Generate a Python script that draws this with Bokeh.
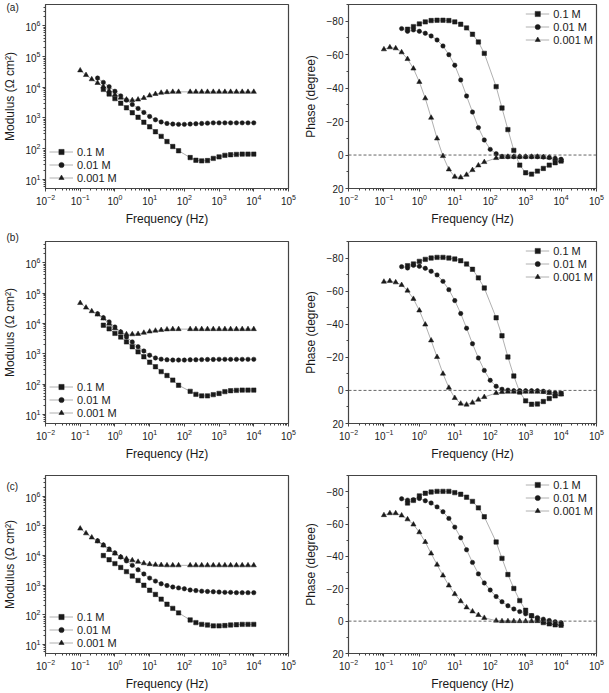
from bokeh.plotting import figure
from bokeh.layouts import column, row
from bokeh.models import Range1d, FixedTicker, Span, Legend, LegendItem
from bokeh.embed import file_html
from bokeh.resources import INLINE

# Measurement frequencies (Hz), 6 points per decade from 0.1 Hz to 10 kHz
FREQ = [0.1, 0.147, 0.215, 0.316, 0.464, 0.681,
        1.0, 1.47, 2.15, 3.16, 4.64, 6.81,
        10.0, 14.7, 21.5, 31.6, 46.4, 68.1,
        100.0, 147.0, 215.0, 316.0, 464.0, 681.0,
        1000.0, 1470.0, 2150.0, 3160.0, 4640.0, 6810.0, 10000.0]

LABELS = ["0.1 M", "0.01 M", "0.001 M"]
N = None

# ---- impedance modulus (ohm cm^2) ----
mod_a_01 = [N, N, N, N, 8510, 6030, 4270, 3020, 2140, 1480, 1050, 724, 513, 355, 251, 170,
            117, 85, N, 51, 41.7, 39.8, 40.7, 47.9, 53.7, 60.3, 63.1, 64.6, 66.1, 66.1, 66.1]
mod_a_001 = [N, N, N, 19950, 14450, 10470, 7410, 5250, 3800, 2750, 2040, 1510, 1120, 871, 741, 661,
             631, 617, 617, 631, 646, 661, 676, 692, 692, 692, 692, 692, 692, 692, 692]
mod_a_0001 = [35500, 25100, 18200, 13800, 10500, 7760, 5750, 4570, 3980, 3800, 3980, 4470, 5370, 6030,
              6610, 6920, 7080, 7080, N, 7080, 7080, 7080, 7080, 7080, 7080, 7080, 7080, 7080, 7080, 7080, 7080]

mod_b_01 = [N, N, N, N, 8710, 6610, 4680, 3550, 2450, 1700, 1150, 794, 525, 372, 257, 191,
            135, 91.2, N, 57.5, 45.7, 40.7, 40.7, 44.7, 49.0, 56.2, 60.3, 61.7, 63.1, 63.1, 63.1]
mod_b_001 = [N, N, N, 20900, 15500, 11200, 7590, 5250, 3550, 2450, 1700, 1230, 891, 724, 661, 631,
             617, 617, 617, 631, 631, 640, 646, 646, 652, 652, 652, 652, 652, 652, 652]
mod_b_0001 = [46800, 33100, 25100, 19500, 14500, 9770, 6920, 5130, 4370, 4370, 4470, 4900, 5370, 5750,
              6030, 6310, 6460, 6460, N, 6460, 6460, 6460, 6460, 6460, 6460, 6460, 6460, 6460, 6460, 6460, 6460]

mod_c_01 = [N, N, N, N, 10000, 7240, 5370, 3980, 2880, 2040, 1450, 1000, 676, 490, 339, 229,
            166, 117, N, 67.6, 55.0, 47.9, 45.7, 42.7, 42.7, 43.7, 45.7, 46.8, 47.9, 47.9, 47.9]
mod_c_001 = [N, N, N, 31600, 22900, 16600, 12300, 8910, 6610, 4680, 3310, 2400, 1740, 1380, 1120, 977,
             871, 813, 759, 692, 661, 631, 617, 603, 589, 575, 575, 562, 562, 562, 562]
mod_c_0001 = [81300, 56200, 40700, 30200, 21900, 15500, 11700, 8910, 7760, 6920, 6170, 5500, 5130, 4900,
              4790, 4680, 4680, 4680, N, 4680, 4680, 4680, 4680, 4680, 4680, 4680, 4680, 4680, 4680, 4680, 4680]

# ---- phase angle (degree) ----
ph_a_01 = [N, N, N, N, -75.2, -76.8, -78.4, -79.6, -80.4, -80.6, -80.6, -80.4, -79.6, -78.2, -76.0, -72.2,
           -67.6, -60.8, N, -40.9, -28.1, -15.2, -2.8, 6.0, 10.6, 11.4, 9.6, 8.0, 6.0, 4.6, 3.6]
ph_a_001 = [N, N, N, -75.6, -74.0, -74.8, -74.0, -72.8, -71.2, -68.8, -65.2, -60.0, -53.7, -44.9, -35.3, -25.7,
            -16.4, -9.0, -3.4, -0.8, 0.8, 1.0, 1.0, 1.0, 1.0, 1.0, 1.0, 1.2, 1.5, 2.0, 2.5]
ph_a_0001 = [-63.2, -64.4, -63.8, -61.4, -57.4, -51.7, -43.7, -33.9, -22.3, -9.9, 0.6, 8.6, 13.0, 13.4,
             11.8, 9.0, 6.2, 4.2, N, 1.8, 1.2, 1.0, 1.0, 1.0, 1.0, 1.0, 1.0, 1.2, 1.5, 2.2, 3.0]

ph_b_01 = [N, N, N, N, -75.4, -76.4, -78.0, -79.2, -80.0, -80.4, -80.4, -80.0, -79.4, -78.4, -76.4, -73.2,
           -68.0, -61.9, N, -43.9, -33.0, -20.2, -8.7, 1.0, 6.3, 8.4, 8.2, 6.7, 4.9, 3.3, 1.9]
ph_b_001 = [N, N, N, -74.8, -74.0, -75.6, -75.0, -73.8, -72.0, -69.8, -65.9, -60.9, -54.3, -46.5, -37.6, -28.2,
            -19.6, -12.1, -6.1, -2.5, -0.7, -0.2, 0.2, 0.2, 0.2, 0.2, 0.2, 0.5, 1.0, 1.5, 2.0]
ph_b_0001 = [-65.7, -66.1, -65.3, -63.7, -60.3, -55.3, -48.3, -39.8, -30.2, -20.2, -10.1, -1.6, 4.6, 8.0,
             8.6, 7.4, 5.6, 4.0, N, 1.6, 1.0, 0.8, 0.8, 0.8, 0.8, 0.8, 0.8, 1.0, 1.5, 2.0, 2.5]

ph_c_01 = [N, N, N, N, -73.0, -74.6, -77.4, -79.0, -79.8, -80.2, -80.2, -80.2, -79.4, -78.4, -76.6, -74.0,
           -70.0, -64.5, N, -48.9, -38.8, -28.8, -20.2, -12.7, -6.7, -3.3, -1.3, 0.9, 1.7, 2.3, 2.5]
ph_c_001 = [N, N, N, -75.6, -74.8, -75.0, -75.8, -74.4, -73.0, -70.6, -67.6, -63.5, -58.1, -51.5, -44.1, -36.3,
            -29.2, -23.6, -19.2, -15.2, -12.0, -9.5, -7.5, -5.9, -4.5, -3.3, -2.2, -1.2, -0.4, 0.4, 1.0]
ph_c_0001 = [-65.5, -66.7, -66.7, -65.3, -62.9, -59.7, -54.9, -48.9, -41.8, -34.9, -28.2, -22.0, -16.7, -12.3,
             -8.5, -6.0, -3.8, -2.0, N, -0.3, 0.0, 0.0, 0.0, 0.0, 0.0, 0.0, 0.0, 0.3, 0.8, 1.3, 1.8]

PANELS = [
    ("(a)", [mod_a_01, mod_a_001, mod_a_0001], [ph_a_01, ph_a_001, ph_a_0001]),
    ("(b)", [mod_b_01, mod_b_001, mod_b_0001], [ph_b_01, ph_b_001, ph_b_0001]),
    ("(c)", [mod_c_01, mod_c_001, mod_c_0001], [ph_c_01, ph_c_001, ph_c_0001]),
]

# row geometry: (height, border top, border bottom, tag standoff, tag vertical alignment)
ROWS = [(230, 4, 42, -16, "bottom"), (233, 11, 40, -4, "middle"), (230, 12, 34, -32, "bottom")]

FONT = "Liberation Sans"
INK = "#1a1a1a"
FRAME = "#444444"
MARKERS = [("square", 4.4), ("circle", 4.4), ("triangle", 5.2)]

DECADES_X = [1e-2, 1e-1, 1e0, 1e1, 1e2, 1e3, 1e4, 1e5]
DECADES_Y = [1e1, 1e2, 1e3, 1e4, 1e5, 1e6]
PHASE_TICKS = [-80, -60, -40, -20, 0, 20]
PHASE_MINOR = [-90, -70, -50, -30, -10, 10]


def minors(decades, lo, hi):
    out = []
    for d in [decades[0] / 10] + decades:
        for m in range(2, 10):
            v = d * m
            if lo < v < hi:
                out.append(v)
    return out


def style(p):
    p.grid.visible = False
    p.outline_line_color = FRAME
    p.outline_line_width = 1.2
    p.background_fill_color = "white"
    p.border_fill_color = "white"
    for ax in p.axis:
        ax.axis_line_color = FRAME
        ax.axis_line_width = 1.0
        ax.major_tick_line_color = FRAME
        ax.minor_tick_line_color = FRAME
        ax.major_tick_in = 0
        ax.major_tick_out = 3
        ax.minor_tick_in = 0
        ax.minor_tick_out = 2
        ax.major_label_text_font = FONT
        ax.major_label_text_font_size = "10px"
        ax.major_label_text_color = INK
        ax.axis_label_text_font = FONT
        ax.axis_label_text_font_size = "12px"
        ax.axis_label_text_font_style = "normal"
        ax.axis_label_text_color = INK
        ax.major_label_standoff = 2
    p.xaxis.axis_label = "Frequency (Hz)"
    p.xaxis.axis_label_standoff = 4
    p.xaxis.ticker = FixedTicker(ticks=DECADES_X, minor_ticks=minors(DECADES_X, 1e-2, 1e5))


def draw_series(p, series, legend_loc, margin):
    items = []
    for lab, ys, (mk, sz) in zip(LABELS, series, MARKERS):
        xs = [f for f, y in zip(FREQ, ys) if y is not None]
        vs = [y for y in ys if y is not None]
        ln = p.line(xs, vs, line_color="#9c9c9c", line_width=0.8)
        sc = p.scatter(xs, vs, marker=mk, size=sz, fill_color=INK, line_color=INK, line_width=0.5)
        items.append(LegendItem(label=lab, renderers=[ln, sc]))
    lg = Legend(items=items, location=legend_loc, margin=margin, padding=0, spacing=0,
                glyph_width=24, glyph_height=13, label_height=13, label_standoff=4,
                label_text_font=FONT, label_text_font_size="11px", label_text_color=INK,
                background_fill_alpha=0, border_line_alpha=0)
    p.add_layout(lg)


rows = []
for (tag, mods, phs), (h, bt, bb, so, va) in zip(PANELS, ROWS):
    pm = figure(width=300, height=h, x_axis_type="log", y_axis_type="log",
                x_range=Range1d(1e-2, 1e5), y_range=Range1d(5, 5e6),
                output_backend="svg", toolbar_location=None,
                min_border_left=42, min_border_right=12, min_border_top=bt, min_border_bottom=bb)
    style(pm)
    pm.yaxis.ticker = FixedTicker(ticks=DECADES_Y, minor_ticks=minors(DECADES_Y, 5, 5e6))
    pm.yaxis.axis_label = "Modulus (\u03a9 cm\u00b2)"
    pm.yaxis.axis_label_standoff = 5
    draw_series(pm, mods, "bottom_left", 4)
    # panel tag, drawn as the title and pulled into the top-left corner of the canvas
    pm.title.text = tag
    pm.title.align = "left"
    pm.title.vertical_align = va
    pm.title.offset = -39
    pm.title.standoff = so
    pm.title.text_font = FONT
    pm.title.text_font_size = "10px"
    pm.title.text_font_style = "normal"
    pm.title.text_color = INK

    pp = figure(width=309, height=h, x_axis_type="log",
                x_range=Range1d(1e-2, 1e5), y_range=Range1d(20, -90),
                output_backend="svg", toolbar_location=None,
                min_border_left=48, min_border_right=13, min_border_top=bt, min_border_bottom=bb)
    style(pp)
    pp.yaxis.ticker = FixedTicker(ticks=PHASE_TICKS, minor_ticks=PHASE_MINOR)
    pp.yaxis.axis_label = "Phase (degree)"
    pp.yaxis.axis_label_standoff = 6
    pp.add_layout(Span(location=0, dimension="width", line_color="#555555",
                       line_width=0.9, line_dash="3 2"))
    draw_series(pp, phs, "top_right", 3)
    rows.append(row(pm, pp))

layout = column(*rows)

with open("out.html", "w") as fh:
    fh.write(file_html(layout, INLINE))
